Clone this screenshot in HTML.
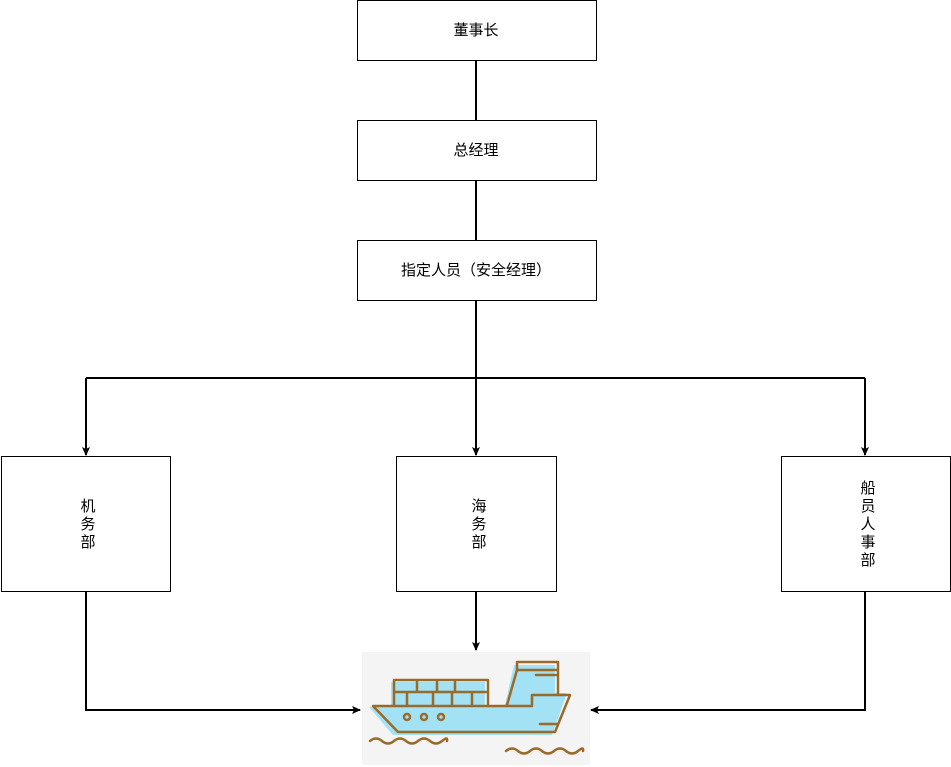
<!DOCTYPE html>
<html><head><meta charset="utf-8"><style>
body{margin:0;background:#fff;width:951px;height:767px;overflow:hidden;font-family:"Liberation Sans","Noto Sans CJK SC",sans-serif}
</style></head><body>
<svg width="951" height="767" viewBox="0 0 951 767" xmlns="http://www.w3.org/2000/svg" style="position:absolute;left:0;top:0">
<defs><marker id="a" markerWidth="10" markerHeight="10" refX="8" refY="5" orient="auto" markerUnits="userSpaceOnUse"><path d="M0,1 L9,5 L0,9 L2,5 Z" fill="#000"/></marker></defs>
<g fill="#fff" stroke="#000" stroke-width="1">
<rect x="357.5" y="0.5" width="239" height="60"/>
<rect x="357.5" y="120.5" width="239" height="60"/>
<rect x="357.5" y="240.5" width="239" height="60"/>
<rect x="1.5" y="456.5" width="169" height="135"/>
<rect x="396.5" y="456.5" width="160" height="135"/>
<rect x="781.5" y="456.5" width="169" height="135"/>
</g>
<g stroke="#000" stroke-width="2" fill="none">
<path d="M476,60 V120 M476,180 V240"/>
<path d="M476,300 V378 M86,378 H865"/>
<path d="M86,378 V455" marker-end="url(#a)"/>
<path d="M476,378 V455" marker-end="url(#a)"/>
<path d="M865,378 V455" marker-end="url(#a)"/>
<path d="M86,591 V710 H360" marker-end="url(#a)"/>
<path d="M476,591 V650" marker-end="url(#a)"/>
<path d="M865,591 V710 H591" marker-end="url(#a)"/>
</g>
<g font-size="15" text-anchor="middle" fill="#000" font-family="Liberation Sans, Noto Sans CJK SC, sans-serif">
<text x="476" y="35">董事长</text>
<text x="476" y="155">总经理</text>
<text x="476" y="275">指定人员（安全经理）</text>
<text x="88" y="511">机</text><text x="88" y="529">务</text><text x="88" y="547">部</text>
<text x="479" y="511">海</text><text x="479" y="529">务</text><text x="479" y="547">部</text>
<text x="868" y="493">船</text><text x="868" y="511">员</text><text x="868" y="529">人</text><text x="868" y="547">事</text><text x="868" y="565">部</text>
</g>
<rect x="362" y="652" width="228" height="113" fill="#f4f4f4"/>
<g fill="#a3e1f5">
<path d="M369,707 L527,707 L527,693 L567,693 L552,735 L393,735 Z"/>
<rect x="391" y="682" width="94" height="25"/>
<path d="M505,705 L514,665 L555,665 L555,693 L527,693 L527,705 Z"/>
</g>
<g fill="none" stroke="#9a6a2a" stroke-width="2.5" stroke-linejoin="round" stroke-linecap="round">
<path d="M373,706 L532,706 L532,695 L570,695 L555,732 L398,732 Z"/>
<path d="M394,706 V680 H488 V706 M394,692 H488 M417,680 V692 M437,680 V692 M455,680 V692 M407,692 V706 M433,692 V706 M452,692 V706 M472,692 V706"/>
<path d="M507,705 L517,670 V662 H558 V694 M517,670 H558 M536,675 H558 M540,724 H558"/>
<circle cx="407" cy="717" r="3"/><circle cx="424" cy="717" r="3"/><circle cx="441" cy="717" r="3"/>
<path d="M370,741 q6,-5 12,0 t12,0 t12,0 t12,0 t12,0 t12,0 t5,0"/>
<path d="M506,751 q6,-5 12,0 t12,0 t12,0 t12,0 t12,0 t12,0 t5,0"/>
</g>
</svg>
</body></html>
